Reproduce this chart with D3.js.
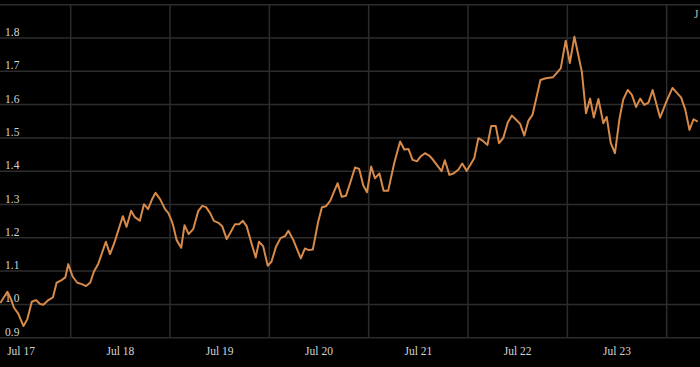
<!DOCTYPE html>
<html><head><meta charset="utf-8">
<script src="https://cdn.jsdelivr.net/npm/d3@7"></script>
<style>html,body{margin:0;padding:0;background:#000;}svg{display:block;}</style>
</head><body>
<svg id="chart" width="700" height="367"></svg>
<script>
// Data: hours since Jul 17 00:00 and series values
const baseDate = new Date(2023, 6, 17, 0, 0);
const hours = [7.0,8.7,9.5,10.3,11.3,12.6,13.5,14.6,15.6,16.6,17.4,18.6,19.7,20.6,21.8,22.7,23.4,24.5,25.6,26.7,27.7,28.7,29.6,30.7,32.5,33.5,34.5,36.6,37.5,38.6,39.5,40.7,41.7,42.7,43.6,44.5,45.6,46.8,47.6,48.4,48.8,49.6,50.7,51.5,52.5,53.6,54.8,55.8,56.7,57.7,58.6,59.7,60.6,61.7,62.7,63.7,64.7,65.6,66.5,67.7,68.7,69.5,70.5,71.6,72.5,73.6,74.7,75.8,76.6,77.8,79.6,80.6,81.5,82.5,83.8,84.7,85.7,86.7,87.5,88.5,89.5,90.5,91.5,92.7,93.7,94.7,95.6,96.6,97.5,98.6,99.6,100.7,102.2,103.6,104.6,105.6,106.6,107.7,108.6,109.6,110.6,111.5,113.6,114.4,115.5,116.6,117.7,118.6,119.7,121.5,122.5,123.5,124.7,125.6,126.7,127.5,128.5,129.6,130.6,131.5,132.6,133.6,134.6,135.6,137.5,138.8,140.5,142.4,143.6,144.6,145.7,147.5,148.5,149.5,150.4,151.5,152.7,153.5,154.5,155.5,156.6,157.5,158.6,159.6,160.6,161.6,162.6,163.6,164.6,166.4,168.0,169.4,171.5,172.5,173.5,174.5,175.5];
const values = [1.004,1.038,1.018,0.990,0.973,0.935,0.955,1.008,1.013,1.001,0.999,1.013,1.021,1.065,1.073,1.081,1.121,1.083,1.065,1.061,1.055,1.065,1.098,1.123,1.188,1.151,1.183,1.265,1.233,1.281,1.262,1.251,1.301,1.286,1.314,1.335,1.316,1.286,1.274,1.251,1.235,1.193,1.170,1.238,1.211,1.226,1.280,1.296,1.292,1.274,1.251,1.245,1.235,1.196,1.218,1.241,1.241,1.251,1.235,1.183,1.141,1.188,1.175,1.116,1.128,1.173,1.199,1.205,1.221,1.193,1.138,1.168,1.163,1.165,1.248,1.292,1.295,1.311,1.335,1.364,1.323,1.326,1.364,1.411,1.407,1.357,1.337,1.414,1.379,1.393,1.341,1.341,1.426,1.489,1.465,1.467,1.434,1.430,1.445,1.454,1.447,1.435,1.400,1.433,1.389,1.394,1.405,1.423,1.401,1.439,1.499,1.492,1.479,1.536,1.536,1.484,1.499,1.546,1.567,1.556,1.542,1.507,1.552,1.570,1.674,1.679,1.682,1.709,1.792,1.725,1.804,1.699,1.574,1.618,1.561,1.617,1.544,1.563,1.484,1.454,1.558,1.615,1.644,1.629,1.593,1.618,1.599,1.606,1.644,1.561,1.611,1.650,1.621,1.585,1.524,1.556,1.549];
const yTicks = [0.9,1.0,1.1,1.2,1.3,1.4,1.5,1.6,1.7,1.8,1.9];
const yTickLabels = ["0.9","1.0","1.1","1.2","1.3","1.4","1.5","1.6","1.7","1.8",""];
const xLabels = ["Jul 17","Jul 18","Jul 19","Jul 20","Jul 21","Jul 22","Jul 23"];
const cornerLabel = "J";
const xDomainHours = [6.92, 176.05];
const yDomain = [0.9, 1.9];

const W = 700, H = 367;
const toDate = h => new Date(baseDate.getTime() + h * 3600e3);
const x = d3.scaleTime().domain(xDomainHours.map(toDate)).range([0, W]);
const y = d3.scaleLinear().domain(yDomain).range([337.7, 4.7]);

const svg = d3.select("#chart");
svg.append("rect").attr("width", W).attr("height", H).attr("fill", "#000");

const gridColor = "#2c2c2c";
// horizontal gridlines
svg.append("g").selectAll("line").data(yTicks).join("line")
  .attr("x1", 0).attr("x2", W)
  .attr("y1", d => y(d)).attr("y2", d => y(d))
  .attr("stroke", gridColor).attr("stroke-width", 1.5);

// vertical gridlines at midnights
const days = d3.timeDay.range(toDate(xDomainHours[0]), toDate(xDomainHours[1]));
svg.append("g").selectAll("line").data(days).join("line")
  .attr("x1", d => x(d)).attr("x2", d => x(d))
  .attr("y1", y(yDomain[1])).attr("y2", y(yDomain[0]))
  .attr("stroke", gridColor).attr("stroke-width", 1.5);

// y labels
svg.append("g").selectAll("text").data(yTicks).join("text")
  .attr("x", 5).attr("y", d => y(d) - 2)
  .attr("fill", "#d4d4d4")
  .style("font-family", "'Liberation Serif', 'DejaVu Serif', serif")
  .style("font-size", "11.5px")
  .text((d, i) => yTickLabels[i]);

// x labels at noon of each day
svg.append("g").selectAll("text").data(xLabels).join("text")
  .attr("x", (d, i) => x(toDate(12 + 24 * i)))
  .attr("y", 355)
  .attr("text-anchor", "middle")
  .attr("fill", "#d4d4d4")
  .style("font-family", "'Liberation Serif', 'DejaVu Serif', serif")
  .style("font-size", "11.5px")
  .text(d => d);

// partial label at top right
svg.append("text")
  .attr("x", 694).attr("y", 18)
  .attr("fill", "#bbbbbb")
  .style("font-family", "'Liberation Serif', 'DejaVu Serif', serif")
  .style("font-size", "11.5px")
  .text(cornerLabel);

// line
const pts = hours.map((h, i) => ({ t: toDate(h), v: values[i] }));
svg.append("path").datum(pts)
  .attr("fill", "none")
  .attr("stroke", "#d78a49")
  .attr("stroke-width", 2)
  .attr("stroke-linejoin", "round")
  .attr("d", d3.line().x(d => x(d.t)).y(d => y(d.v)));
</script>
</body></html>
